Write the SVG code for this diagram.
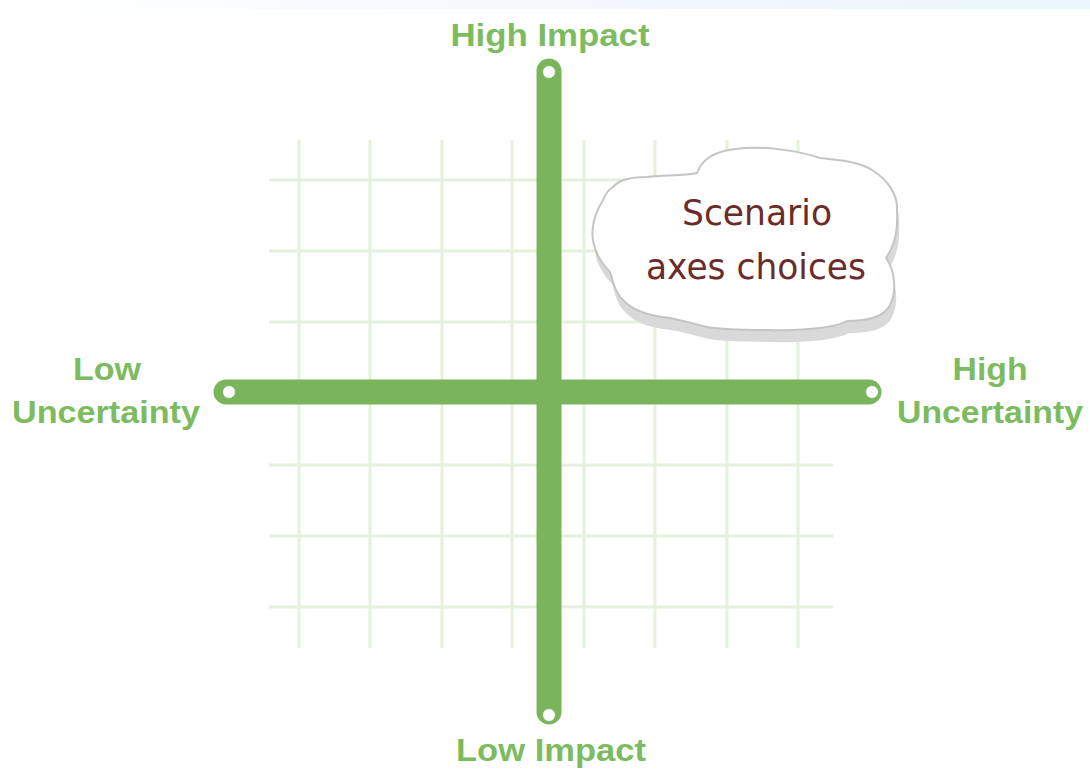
<svg xmlns="http://www.w3.org/2000/svg" width="1090" height="769" viewBox="0 0 1090 769">
<defs>
<linearGradient id="topband" x1="0" y1="0" x2="1" y2="0">
<stop offset="0" stop-color="#ffffff"/>
<stop offset="0.4" stop-color="#f6fafe"/>
<stop offset="1" stop-color="#eaf5fd"/>
</linearGradient>
<style>
.grid line{stroke:#e6f1dd;stroke-width:3}
.axis{stroke:#7ab55c;stroke-width:25;stroke-linecap:round;fill:none}
.end{fill:#ffffff;stroke:#7ab55c;stroke-width:1}
.lbl{font-family:"Liberation Sans",Arial,sans-serif;font-weight:bold;font-size:32px;fill:#7dbb5f;text-anchor:middle}
.cloudtxt{font-family:"DejaVu Sans","Liberation Sans",sans-serif;font-size:36px;fill:#6b2b2b;text-anchor:middle}
</style>
</defs>
<rect width="1090" height="769" fill="#ffffff"/>
<rect x="0" y="0" width="1090" height="9" fill="url(#topband)"/>
<g id="grid" class="grid">
<line x1="299" y1="140" x2="299" y2="648"/>
<line x1="370" y1="140" x2="370" y2="648"/>
<line x1="442" y1="140" x2="442" y2="648"/>
<line x1="512" y1="140" x2="512" y2="648"/>
<line x1="584" y1="140" x2="584" y2="648"/>
<line x1="655" y1="140" x2="655" y2="648"/>
<line x1="727" y1="140" x2="727" y2="648"/>
<line x1="798" y1="140" x2="798" y2="648"/>
<line x1="269" y1="180" x2="833" y2="180"/>
<line x1="269" y1="251" x2="833" y2="251"/>
<line x1="269" y1="322" x2="833" y2="322"/>
<line x1="269" y1="393" x2="833" y2="393"/>
<line x1="269" y1="465" x2="833" y2="465"/>
<line x1="269" y1="536" x2="833" y2="536"/>
<line x1="269" y1="607" x2="833" y2="607"/>
</g>
<g id="connectors">
<line class="axis" x1="549" y1="71" x2="549" y2="712"/>
<line class="axis" x1="226" y1="392" x2="869" y2="392"/>
<circle class="end" cx="549" cy="72" r="6.5"/>
<circle class="end" cx="549" cy="715" r="6.5"/>
<circle class="end" cx="229" cy="392" r="6.5"/>
<circle class="end" cx="872" cy="392" r="6.5"/>
</g>
<g id="cloud">
<path transform="translate(2,12)" fill="#d9d9d9" d="M613,187 C618,181 630,177 647,177 C665,175 685,176 697,173 C702,160 712,152 735,149 C755,146 790,148 820,158 C840,160 860,162 872,170 C888,180 898,195 897,210 C898,228 896,243 886,258 C895,270 897,292 890,305 C884,318 866,321 847,321 C835,328 800,331 770,330 C745,330 720,329 707,327 C695,324 685,321 670,318 C650,316 635,312 625,302 C614,292 614,283 610,272 C600,262 590,245 593,227 C594,215 600,205 603,200 C605,195 608,190 613,187 Z"/>
<path fill="#ffffff" stroke="#c4c4c4" stroke-width="2" d="M613,187 C618,181 630,177 647,177 C665,175 685,176 697,173 C702,160 712,152 735,149 C755,146 790,148 820,158 C840,160 860,162 872,170 C888,180 898,195 897,210 C898,228 896,243 886,258 C895,270 897,292 890,305 C884,318 866,321 847,321 C835,328 800,331 770,330 C745,330 720,329 707,327 C695,324 685,321 670,318 C650,316 635,312 625,302 C614,292 614,283 610,272 C600,262 590,245 593,227 C594,215 600,205 603,200 C605,195 608,190 613,187 Z"/>
<text class="cloudtxt" x="757" y="225" textLength="150" lengthAdjust="spacingAndGlyphs">Scenario</text>
<text class="cloudtxt" x="756" y="279" textLength="220" lengthAdjust="spacingAndGlyphs">axes choices</text>
</g>
<g id="high-impact"><text class="lbl" x="550" y="46" textLength="199" lengthAdjust="spacingAndGlyphs">High Impact</text></g>
<g id="low-impact"><text class="lbl" x="551" y="761" textLength="190" lengthAdjust="spacingAndGlyphs">Low Impact</text></g>
<g id="low-uncertainty">
<text class="lbl" x="107" y="380" textLength="68" lengthAdjust="spacingAndGlyphs">Low</text>
<text class="lbl" x="106" y="423" textLength="188" lengthAdjust="spacingAndGlyphs">Uncertainty</text>
</g>
<g id="high-uncertainty">
<text class="lbl" x="990" y="380" textLength="75" lengthAdjust="spacingAndGlyphs">High</text>
<text class="lbl" x="990" y="423" textLength="186" lengthAdjust="spacingAndGlyphs">Uncertainty</text>
</g>
</svg>
